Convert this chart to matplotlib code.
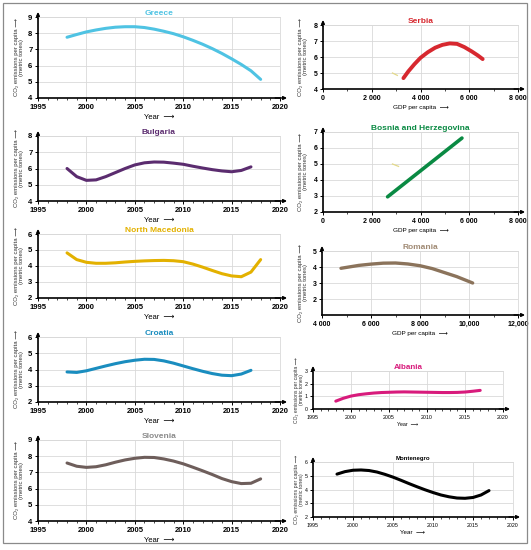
import matplotlib
matplotlib.use("Agg")
import matplotlib.pyplot as plt
from matplotlib.ticker import MultipleLocator, FixedLocator
from matplotlib.patches import Rectangle

plt.rcParams["font.family"] = ["Liberation Sans", "DejaVu Sans"]

W, H = 531, 550

# ---- data ----
greece_years = list(range(1998, 2019))
greece_co2 = [7.75, 7.92, 8.08, 8.2, 8.3, 8.37, 8.4, 8.4, 8.35, 8.25, 8.12,
              7.97, 7.78, 7.56, 7.32, 7.05, 6.75, 6.42, 6.07, 5.68, 5.15]

bulgaria_years = list(range(1998, 2018))
bulgaria_co2 = [6.0, 5.5, 5.27, 5.3, 5.5, 5.75, 6.0, 6.22, 6.35, 6.4, 6.39,
                6.33, 6.26, 6.14, 6.03, 5.93, 5.85, 5.8, 5.88, 6.1]

macedonia_years = list(range(1998, 2019))
macedonia_co2 = [4.82, 4.4, 4.23, 4.17, 4.17, 4.2, 4.25, 4.29, 4.32, 4.34, 4.35,
                 4.33, 4.27, 4.12, 3.93, 3.72, 3.52, 3.38, 3.33, 3.62, 4.4]

croatia_years = list(range(1998, 2018))
croatia_co2 = [3.85, 3.82, 3.92, 4.07, 4.22, 4.36, 4.48, 4.57, 4.63, 4.62,
               4.53, 4.39, 4.22, 4.05, 3.89, 3.75, 3.65, 3.62, 3.72, 3.95]

slovenia_years = list(range(1998, 2019))
slovenia_co2 = [7.58, 7.38, 7.31, 7.35, 7.47, 7.63, 7.77, 7.87, 7.93, 7.92, 7.83,
                7.7, 7.53, 7.32, 7.1, 6.87, 6.62, 6.43, 6.31, 6.33, 6.6]

serbia_gdp = [3300, 3500, 3750, 4000, 4300, 4600, 4900, 5200, 5500, 5800, 6100, 6350, 6550]
serbia_co2 = [4.68, 5.1, 5.55, 5.95, 6.3, 6.58, 6.76, 6.85, 6.82, 6.62, 6.35, 6.1, 5.87]
serbia_faint_gdp = [2850, 3050]
serbia_faint_co2 = [5.0, 4.85]

bosnia_gdp = [2650, 5700]
bosnia_co2 = [2.95, 6.62]
bosnia_faint_gdp = [2850, 3100]
bosnia_faint_co2 = [5.0, 4.85]

romania_gdp = [4775, 5500, 6000, 6500, 7000, 7500, 8000, 8500, 9000, 9500, 10150]
romania_co2 = [3.92, 4.1, 4.18, 4.24, 4.25, 4.19, 4.08, 3.9, 3.65, 3.4, 3.0]

albania_years = list(range(1998, 2018))
albania_co2 = [0.62, 0.85, 1.02, 1.13, 1.2, 1.26, 1.3, 1.32, 1.34, 1.35, 1.34,
               1.33, 1.32, 1.31, 1.3, 1.3, 1.31, 1.34, 1.4, 1.47]

montenegro_years = list(range(1998, 2018))
montenegro_co2 = [5.12, 5.3, 5.4, 5.42, 5.38, 5.27, 5.1, 4.9, 4.67, 4.43, 4.2,
                  3.98, 3.78, 3.6, 3.47, 3.38, 3.36, 3.42, 3.6, 3.92]

year_ticks = [1995, 2000, 2005, 2010, 2015, 2020]
gdp_ticks_a = [0, 2000, 4000, 6000, 8000]
gdp_labels_a = ["0", "2 000", "4 000", "6 000", "8 000"]
gdp_ticks_b = [4000, 6000, 8000, 10000, 12000]
gdp_labels_b = ["4 000", "6 000", "8 000", "10,000", "12,000"]

YLAB = "CO\u2082 emissions per capita \u27f6\n(metric tones)"
GRID = "#d9d9d9"

fig = plt.figure(figsize=(W / 100, H / 100), dpi=100)
fig.patches.append(Rectangle((3 / W, 1 - 543 / H), 524 / W, 540 / H, transform=fig.transFigure,
                             fill=False, ec="#8a8a8a", lw=0.9))


def panel(box, x, y, color, title, xlim, ylim, yticks, xticks, xlabels, xminor,
          xlabel, tcolor=None, lw=2.2, tsize=6.0, ticksize=5.5, tbold=True,
          xlsize=5.5, ylsize=4.3, ylab_px=19, xlpad=2.5):
    l, r, t, b = box
    ax = fig.add_axes([l / W, 1 - b / H, (r - l) / W, (b - t) / H])
    ax.plot(x, y, color=color, lw=lw, solid_capstyle="round", solid_joinstyle="round", zorder=3)
    ax.set_xlim(*xlim); ax.set_ylim(*ylim)
    ax.xaxis.set_major_locator(FixedLocator(xticks))
    ax.set_xticklabels(xlabels)
    ax.xaxis.set_minor_locator(MultipleLocator(xminor))
    ax.yaxis.set_major_locator(FixedLocator(yticks))
    ax.grid(True, which="major", color=GRID, lw=0.6)
    ax.set_axisbelow(True)
    for s in ("top", "right"):
        ax.spines[s].set_color(GRID); ax.spines[s].set_linewidth(0.6)
    for s in ("left", "bottom"):
        ax.spines[s].set_color("black"); ax.spines[s].set_linewidth(1.2)
    wt = "bold" if tbold else "normal"
    ax.tick_params(which="major", length=2.5, width=0.7, pad=1.5, labelsize=ticksize)
    ax.tick_params(which="minor", length=1.5, width=0.5)
    for lab in ax.get_xticklabels() + ax.get_yticklabels():
        lab.set_fontweight(wt)
    # axis arrows
    ap = dict(arrowstyle="-|>", lw=1.0, color="black", mutation_scale=5, shrinkA=0, shrinkB=0)
    ax.annotate("", xy=(1 + 7 / (r - l), 0), xytext=(0.98, 0), xycoords="axes fraction",
                arrowprops=ap, annotation_clip=False)
    ax.annotate("", xy=(0, 1 + 5 / (b - t)), xytext=(0, 0.98), xycoords="axes fraction",
                arrowprops=ap, annotation_clip=False)
    ax.set_title(title, fontsize=tsize, fontweight="bold", color=tcolor or color, pad=1.5)
    ax.set_xlabel(xlabel + "  \u27f6", fontsize=xlsize, labelpad=xlpad)
    ax.text(-(l - ylab_px) / (r - l), 0.5, YLAB, transform=ax.transAxes, rotation=90,
            ha="center", va="center", fontsize=ylsize, linespacing=1.0, color="#333333")
    return ax


yl = [str(v) for v in year_ticks]

panel((38, 280, 17, 98), greece_years, greece_co2, "#4fc3e3", "Greece",
      (1995, 2020), (4, 9), [4, 5, 6, 7, 8, 9], year_ticks, yl, 1, "Year")
panel((38, 280, 136, 201), bulgaria_years, bulgaria_co2, "#5b2c6f", "Bulgaria",
      (1995, 2020), (4, 8), [4, 5, 6, 7, 8], year_ticks, yl, 1, "Year")
panel((38, 280, 234, 298), macedonia_years, macedonia_co2, "#e3b100", "North Macedonia",
      (1995, 2020), (2, 6), [2, 3, 4, 5, 6], year_ticks, yl, 1, "Year")
panel((38, 280, 337, 402), croatia_years, croatia_co2, "#1a8dbf", "Croatia",
      (1995, 2020), (2, 6), [2, 3, 4, 5, 6], year_ticks, yl, 1, "Year")
panel((38, 280, 440, 521), slovenia_years, slovenia_co2, "#6e5e5b", "Slovenia",
      (1995, 2020), (4, 9), [4, 5, 6, 7, 8, 9], year_ticks, yl, 1, "Year",
      tcolor="#8a8a8a")

ax = panel((323, 518, 25, 89), serbia_gdp, serbia_co2, "#d7282f", "Serbia",
           (0, 8000), (4, 8), [4, 5, 6, 7, 8], gdp_ticks_a, gdp_labels_a, 1000,
           "GDP per capita", lw=2.8, ticksize=5.0, xlsize=4.6, ylab_px=303)
ax.plot(serbia_faint_gdp, serbia_faint_co2, color="#e3d98a", lw=0.9, zorder=2)

ax = panel((323, 518, 132, 212), bosnia_gdp, bosnia_co2, "#0a8a43", "Bosnia and Herzegovina",
           (0, 8000), (2, 7), [2, 3, 4, 5, 6, 7], gdp_ticks_a, gdp_labels_a, 1000,
           "GDP per capita", lw=2.6, ticksize=5.0, xlsize=4.6, ylab_px=303)
ax.plot(bosnia_faint_gdp, bosnia_faint_co2, color="#e3d98a", lw=0.9, zorder=2)

panel((322, 518, 251, 315), romania_gdp, romania_co2, "#8b735b", "Romania",
      (4000, 12000), (1, 5), [2, 3, 4, 5], gdp_ticks_b, gdp_labels_b, 1000,
      "GDP per capita", tcolor="#a08a74", lw=2.4, ticksize=5.0, xlsize=4.6, ylab_px=303)

panel((313, 503, 371, 409), albania_years, albania_co2, "#d81b7c", "Albania",
      (1995, 2020), (0, 3), [0, 1, 2, 3], year_ticks, yl, 1, "Year",
      lw=2.2, tsize=5.8, ticksize=3.8, tbold=False, xlsize=3.8, ylsize=3.6, ylab_px=299,
      xlpad=1.5)

panel((313, 513, 462, 517), montenegro_years, montenegro_co2, "black", "Montenegro",
      (1995, 2020), (2, 6), [2, 3, 4, 5, 6], year_ticks, yl, 1, "Year",
      lw=2.2, tsize=4.3, ticksize=3.8, tbold=False, xlsize=4.5, ylsize=3.8, ylab_px=299,
      xlpad=1.5)

fig.savefig("out.png", dpi=100)
